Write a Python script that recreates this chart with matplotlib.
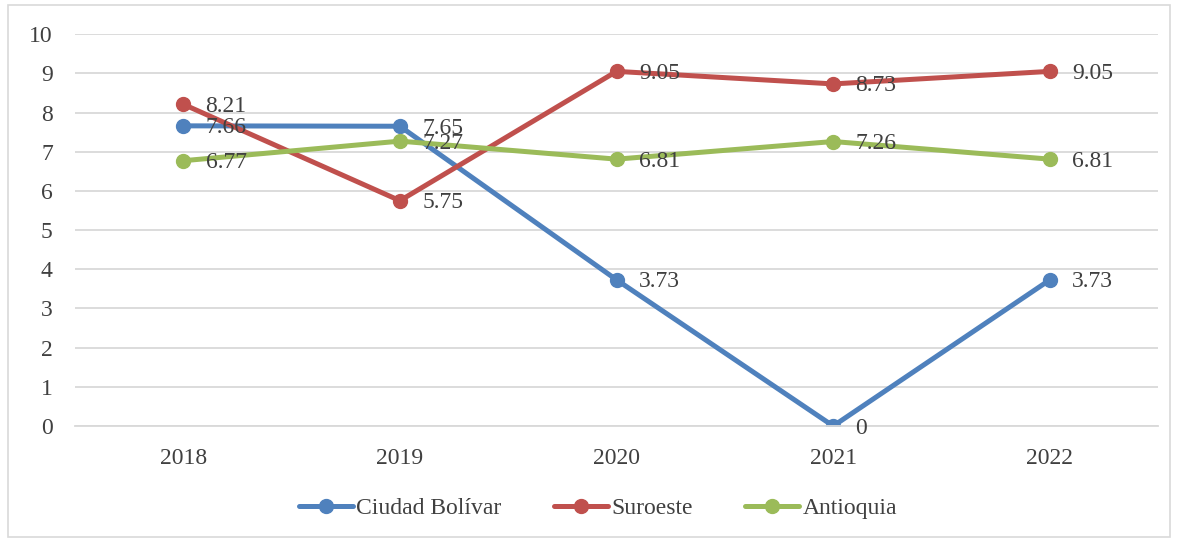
import matplotlib.pyplot as plt
from matplotlib.patches import Rectangle

# datos
years = ['2018', '2019', '2020', '2021', '2022']
ciudad_bolivar = [7.66, 7.65, 3.73, 0, 3.73]
suroeste = [8.21, 5.75, 9.05, 8.73, 9.05]
antioquia = [6.77, 7.27, 6.81, 7.26, 6.81]

series = [
    ('Ciudad Bolívar', ciudad_bolivar, '#4F81BD'),
    ('Suroeste', suroeste, '#C0504D'),
    ('Antioquia', antioquia, '#9BBB59'),
]

plt.rcParams['font.family'] = ['Liberation Serif', 'DejaVu Serif']
txt_color = '#404040'
fs = 17

fig = plt.figure(figsize=(11.77, 5.42), dpi=100)
ax = fig.add_axes([0.0637, 0.214, 0.9203, 0.723])

x = list(range(len(years)))
for name, vals, col in series:
    ax.plot(x, vals, color=col, lw=3.6, marker='o', markersize=10,
            solid_capstyle='round', label=name)
    for xi, v in zip(x, vals):
        lab = '0' if v == 0 else f'{v:.2f}'
        ax.annotate(lab, (xi, v), xytext=(16, -1.5), textcoords='offset points',
                    va='center', ha='left', fontsize=fs, color=txt_color)

ax.set_xlim(-0.5, len(years) - 0.5)
ax.set_ylim(0, 10)
ax.set_yticks(range(0, 11))
ax.set_xticks(x)
ax.set_xticklabels(years)
ax.tick_params(axis='both', length=0, labelsize=fs, labelcolor=txt_color)
ax.tick_params(axis='y', pad=16)
ax.tick_params(axis='x', pad=16)
ax.grid(axis='y', color='#D9D9D9', lw=1.3)
ax.set_axisbelow(True)
for s in ['top', 'right', 'left']:
    ax.spines[s].set_visible(False)
ax.spines['bottom'].set_color('#D9D9D9')
ax.spines['bottom'].set_linewidth(1.3)

leg = fig.legend(loc='center', bbox_to_anchor=(0.508, 0.062), ncol=3, frameon=False,
                 fontsize=fs, handlelength=2.3, handletextpad=0.15, columnspacing=2.2,
                 labelcolor=txt_color)

fig.patches.append(Rectangle((0.007, 0.01), 0.987, 0.98, transform=fig.transFigure,
                             fill=False, edgecolor='#D9D9D9', lw=1.2))

fig.savefig('out.png', dpi=100)
